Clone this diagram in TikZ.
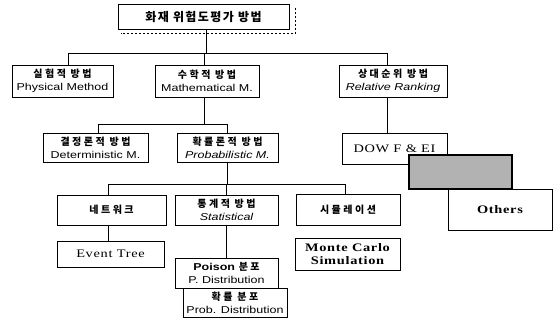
\documentclass[tikz,border=0pt]{standalone}
\usepackage{fontspec}
\setmainfont{Liberation Serif}[FakeStretch=1.25, LetterSpace=6]
\newfontfamily\sansf{Liberation Sans}[FakeStretch=1.25]
\newfontfamily\kr{Noto Sans CJK KR}[LetterSpace=25]
\newfontfamily\krt{Noto Sans CJK KR}[LetterSpace=12]
\usetikzlibrary{calc}
\tikzset{
  box/.style={draw=black, line width=0.8pt, fill=white, rectangle, inner sep=0pt, align=center, font=\fontsize{10}{13}\selectfont},
  serifbox/.style={box, font=\fontsize{11.5}{13.5}\selectfont},
  link/.style={draw=black, line width=0.7pt},
}
\newcommand{\ko}[1]{{\kr\bfseries #1}}
\begin{document}
\begin{tikzpicture}[x=1pt,y=-1pt]
\useasboundingbox (0,0) rectangle (553,324);
% top
\node[box, minimum width=171, minimum height=25, font=\fontsize{12}{14}\selectfont] (top) at (203.5,16.5) {{\krt\bfseries 화재 위험도평가 방법}};
\draw[dashed, dash pattern=on 2.5pt off 1.5pt, line width=0.7pt] ([shift={(6,4)}]top.north east) -- ([shift={(6,4)}]top.south east) -- ([shift={(3,4)}]top.south west);
% level 2
\node[box, minimum width=101, minimum height=32] (phys) at (62.5,81) {\ko{실험적 방법}\\{\sansf Physical Method}};
\node[box, minimum width=104, minimum height=32] (math) at (207,81) {\ko{수학적 방법}\\{\sansf Mathematical M.}};
\node[box, minimum width=108, minimum height=32] (rel) at (393,81) {\ko{상대순위 방법}\\{\sansf\itshape Relative Ranking}};
% level 3
\node[box, minimum width=105, minimum height=29] (det) at (95.5,147.5) {\ko{결정론적 방법}\\{\sansf Deterministic M.}};
\node[box, minimum width=101, minimum height=29] (prob) at (227.5,147.5) {\ko{확률론적 방법}\\{\sansf\itshape Probabilistic M.}};
\node[serifbox, minimum width=105, minimum height=31] (dow) at (394.5,148.5) {DOW F \& EI};
\node[serifbox, minimum width=104, minimum height=41] (others) at (500,209.5) {\bfseries Others};
\node[draw=black, line width=2.6pt, fill=black!30, minimum width=103, minimum height=34, inner sep=0pt] (dark) at (460.5,172) {};
% level 4
\node[box, minimum width=109, minimum height=30] (net) at (111.5,210) {\ko{네트워크}};
\node[box, minimum width=103, minimum height=30] (stat) at (226.5,210) {\ko{통계적 방법}\\{\sansf\itshape Statistical}};
\node[box, minimum width=104, minimum height=31] (sim) at (348,210) {\ko{시뮬레이션}};
% level 5
\node[serifbox, minimum width=107, minimum height=26] (et) at (110.5,254) {Event Tree};
\node[serifbox, minimum width=105, minimum height=32] (mc) at (347.5,254) {\bfseries Monte Carlo\\\bfseries Simulation};
\node[box, minimum width=103, minimum height=30] (poi) at (226.5,273) {{\sansf\bfseries Poison} \ko{분포}\\{\sansf P. Distribution}};
\node[box, minimum width=104, minimum height=29] (pd) at (235,302.5) {\ko{확률 분포}\\{\sansf Prob. Distribution}};
% junction points
\coordinate (j1) at (206,53);
\coordinate (j2) at (204,124);
\coordinate (j3) at (227,184);
\coordinate (pa) at ([xshift=5.5]phys.north);
\coordinate (ma) at ([xshift=-3]math.north);
\coordinate (mb) at ([xshift=-3]math.south);
\coordinate (ra) at ([xshift=-6]rel.north);
\coordinate (rb) at ([xshift=-6]rel.south);
\coordinate (da) at ([xshift=2.5]det.north);
\coordinate (na) at ([xshift=-3.5]net.north);
\coordinate (nb) at ([xshift=-3.5]net.south);
\coordinate (sa) at ([xshift=-3]sim.north);
\coordinate (ta) at ([xshift=2.5]top.south);
% connectors
\draw[link] (ta) -- (ta |- j1);
\draw[link] (pa) |- (ra |- j1) -- (ra);
\draw[link] (ma) -- (ma |- j1);
\draw[link] (mb) -- (mb |- j2);
\draw[link] (da) |- (prob.north |- j2) -- (prob.north);
\draw[link] (rb) -- (rb |- dow.north);
\draw[link] (prob.south) -- (prob.south |- j3);
\draw[link] (na) |- (sa |- j3) -- (sa);
\draw[link] (stat.north) -- (stat.north |- j3);
\draw[link] (nb) -- (nb |- et.north);
\draw[link] (stat.south) -- (poi.north);
\end{tikzpicture}
\end{document}
